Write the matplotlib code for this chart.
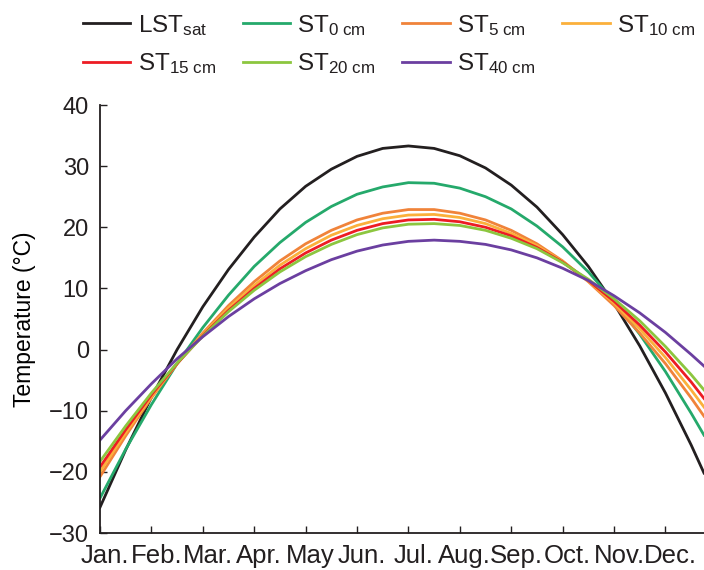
import matplotlib
matplotlib.use("Agg")
import matplotlib.pyplot as plt
from matplotlib.transforms import ScaledTranslation

# month position (0 = Jan.)
months_x = [0, 0.5, 1, 1.5, 2, 2.5, 3, 3.5, 4, 4.5, 5, 5.5, 6, 6.5,
            7, 7.5, 8, 8.5, 9, 9.5, 10, 10.5, 11, 11.5, 11.75]

lst_sat = [-25.8, -16.4, -7.8, 0.0, 7.0, 13.1, 18.4, 23.0, 26.7, 29.5, 31.6, 32.9, 33.3,
           32.9, 31.7, 29.7, 26.9, 23.3, 18.8, 13.6, 7.5, 0.6, -7.1, -15.6, -20.2]
st_0 = [-24.3, -16.3, -9.0, -2.3, 3.6, 8.9, 13.6, 17.5, 20.8, 23.4, 25.4, 26.6, 27.3,
        27.2, 26.4, 25.0, 23.0, 20.2, 16.8, 12.7, 7.9, 2.5, -3.6, -10.4, -14.0]
st_5 = [-20.8, -14.1, -7.9, -2.3, 2.7, 7.2, 11.1, 14.5, 17.3, 19.5, 21.2, 22.3, 22.9,
        22.9, 22.3, 21.2, 19.5, 17.3, 14.5, 11.1, 7.2, 2.7, -2.3, -7.9, -10.9]
st_10 = [-20.0, -13.6, -7.7, -2.3, 2.5, 6.8, 10.5, 13.8, 16.5, 18.7, 20.3, 21.4, 22.0,
         22.1, 21.6, 20.6, 19.0, 17.0, 14.4, 11.2, 7.6, 3.4, -1.3, -6.6, -9.4]
st_15 = [-19.2, -13.1, -7.4, -2.3, 2.3, 6.4, 10.0, 13.2, 15.8, 17.9, 19.5, 20.6, 21.2,
         21.3, 20.9, 20.0, 18.6, 16.7, 14.3, 11.3, 7.9, 4.0, -0.4, -5.3, -8.0]
st_20 = [-18.3, -12.5, -7.1, -2.2, 2.2, 6.2, 9.7, 12.7, 15.2, 17.2, 18.8, 19.9, 20.5,
         20.6, 20.3, 19.5, 18.2, 16.5, 14.2, 11.5, 8.3, 4.7, 0.5, -4.1, -6.6]
st_40 = [-14.8, -10.0, -5.6, -1.5, 2.1, 5.4, 8.3, 10.8, 12.9, 14.7, 16.1, 17.1, 17.7,
         17.9, 17.7, 17.2, 16.3, 15.0, 13.3, 11.3, 8.8, 6.0, 2.8, -0.8, -2.7]

month_labels = ["Jan.", "Feb.", "Mar.", "Apr.", "May", "Jun.", "Jul.",
                "Aug.", "Sep.", "Oct.", "Nov.", "Dec."]

series = [
    (lst_sat, r"LST$_{\mathrm{sat}}$", "#231f20"),
    (st_0, r"ST$_{\mathrm{0\ cm}}$", "#25a96b"),
    (st_5, r"ST$_{\mathrm{5\ cm}}$", "#f0833a"),
    (st_10, r"ST$_{\mathrm{10\ cm}}$", "#fbb03b"),
    (st_15, r"ST$_{\mathrm{15\ cm}}$", "#ed1c24"),
    (st_20, r"ST$_{\mathrm{20\ cm}}$", "#8cc63f"),
    (st_40, r"ST$_{\mathrm{40\ cm}}$", "#6b3fa0"),
]

plt.rcParams["font.family"] = ["Liberation Sans", "DejaVu Sans"]
plt.rcParams["mathtext.fontset"] = "custom"
plt.rcParams["mathtext.rm"] = "Liberation Sans"
plt.rcParams["mathtext.it"] = "Liberation Sans:italic"
plt.rcParams["text.color"] = "#231f20"

fig = plt.figure(figsize=(7.04, 5.70), dpi=100)
ax = fig.add_axes([100 / 704, 37 / 570, 604 / 704, 428 / 570])

for vals, name, col in series:
    ax.plot(months_x, vals, color=col, lw=2.0, label=name)

ax.set_xlim(0, 11.75)
ax.set_ylim(-30, 40)
ax.set_yticks(range(-30, 41, 10))
ax.set_xticks(range(12))
ax.set_xticklabels(month_labels)
ax.tick_params(axis="both", direction="in", length=5, width=1, colors="#231f20")
ax.tick_params(axis="x", labelsize=18.5, pad=8)
ax.tick_params(axis="y", labelsize=17, pad=8)
# month names sit a little right of their ticks in the original
shift = ScaledTranslation(5 / 100, 0, fig.dpi_scale_trans)
for lab in ax.get_xticklabels():
    lab.set_transform(lab.get_transform() + shift)
for s in ["top", "right"]:
    ax.spines[s].set_visible(False)
for s in ["left", "bottom"]:
    ax.spines[s].set_linewidth(1.3)
    ax.spines[s].set_color("#231f20")
ax.set_ylabel("Temperature (°C)", fontsize=16.5, labelpad=9)

# legend reads row by row, matplotlib fills by column
order = [0, 4, 1, 5, 2, 6, 3]
handles = [ax.get_lines()[i] for i in order]
labels = [series[i][1] for i in order]
fig.legend(handles, labels, ncol=4, loc="upper left",
           bbox_to_anchor=(83 / 704, 1 - 13 / 570), frameon=False,
           fontsize=17.5, handlelength=1.95, handletextpad=0.3,
           columnspacing=1.1, labelspacing=0.55, borderpad=0, borderaxespad=0)

fig.savefig("out.png", dpi=100)
